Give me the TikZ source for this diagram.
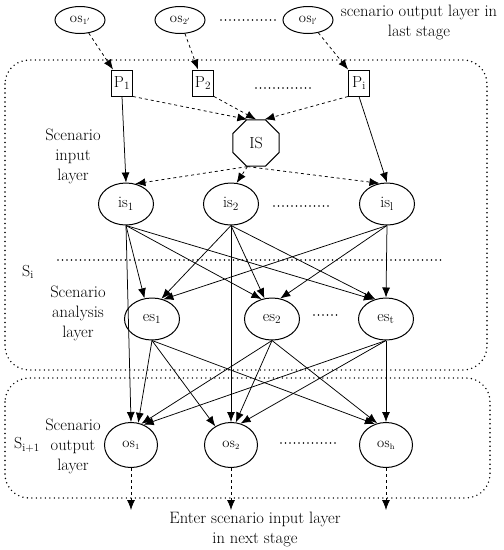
\documentclass[tikz,border=0pt]{standalone}
\usetikzlibrary{arrows.meta,shapes.geometric}
\begin{document}
\begin{tikzpicture}[x=1pt, y=-1pt, font=\fontsize{16}{18}\selectfont,
    state/.style={draw, ellipse, line width=1pt, inner sep=0pt, minimum width=55pt, minimum height=42pt},
    prevout/.style={state, minimum width=50pt, minimum height=27pt, font=\fontsize{12}{13}\selectfont},
    outnode/.style={state, minimum width=53pt, minimum height=45pt, font=\fontsize{12}{13}\selectfont},
    pbox/.style={draw, rectangle, line width=1pt, inner sep=0pt, minimum width=21pt, minimum height=26pt},
    arr/.style={-{Latex[length=10pt,width=8pt]}, line width=0.75pt},
    darr/.style={arr, dashed},
    dotline/.style={line width=1.6pt, line cap=round, dash pattern=on 0pt off 4.5pt},
    layer/.style={align=center, font=\fontsize{16.5}{20}\selectfont}]
    \useasboundingbox (0,0) rectangle (504,550);

    % stage boxes
    \draw[dotline, rounded corners=24pt] (5,60) rectangle (487,370);
    \draw[dotline, rounded corners=24pt] (5,378) rectangle (490,498);
    \draw[dotline] (58,260) -- (442,260);

    % output of last stage
    \node (os1p) [prevout] at (80,20) {\textsc{os}\textsubscript{1$'$}};
    \node (os2p) [prevout] at (180,20) {\textsc{os}\textsubscript{2$'$}};
    \node (oslp) [prevout] at (308,20) {\textsc{os}\textsubscript{l$'$}};
    \draw[dotline] (221,20) -- (276,20);
    \node (lastlbl) [layer, anchor=north] at (419,2) {scenario output layer in\\last stage};

    % input layer
    \node (p1) [pbox] at (122,83) {P\textsubscript{1}};
    \node (p2) [pbox] at (203,83) {P\textsubscript{2}};
    \node (pi) [pbox] at (359,83) {P\textsubscript{i}};
    \draw[dotline] (256,88) -- (311,88);
    \node (is) [draw, regular polygon, regular polygon sides=8, line width=1pt, minimum size=50pt, inner sep=0pt] at (256,143) {IS};
    \node (inlbl) [layer] at (73,156) {Scenario\\input\\layer};

    \node (is1) [state] at (126,204) {is\textsubscript{1}};
    \node (is2) [state] at (231,204) {is\textsubscript{2}};
    \node (isl) [state] at (387,204) {is\textsubscript{l}};
    \draw[dotline] (274,206) -- (329,206);

    \draw[darr] (os1p) -- (p1);
    \draw[darr] (os2p) -- (p2);
    \draw[darr] (oslp) -- (pi);
    \draw[darr] (p1.south east) -- (is.110);
    \draw[darr] (p2.south east) -- (is.90);
    \draw[darr] (pi.south west) -- (is.70);
    \draw[arr] (p1.south) -- (is1.north);
    \draw[arr] (pi.south) -- (isl.north);
    \draw[darr] (is.250) -- (is1.65);
    \draw[darr] (is.250) -- (is2.75);
    \draw[darr] (is.250) -- (isl.110);

    % analysis layer
    \node (silbl) at (28,272) {S\textsubscript{i}};
    \node (anlbl) [layer] at (78,313) {Scenario\\analysis\\layer};
    \node (es1) [state] at (152,319) {es\textsubscript{1}};
    \node (es2) [state] at (272,319) {es\textsubscript{2}};
    \node (est) [state] at (386,319) {es\textsubscript{t}};
    \draw[dotline] (314,315) -- (340,315);

    \draw[arr] (is1.south) -- (es1.110);
    \draw[arr] (is1.south) -- (es2.118);
    \draw[arr] (is1.south) -- (est.122);
    \draw[arr] (is2.south) -- (es1.65);
    \draw[arr] (is2.south) -- (es2.110);
    \draw[arr] (is2.south) -- (est.118);
    \draw[arr] (isl.south) -- (es1.60);
    \draw[arr] (isl.south) -- (es2.68);
    \draw[arr] (isl.south) -- (est.north);

    % output layer
    \node (si1lbl) at (27,445) {S\textsubscript{i+1}};
    \node (outlbl) [layer] at (73,446) {Scenario\\output\\layer};
    \node (os1) [outnode] at (131,445) {\textsc{os}\textsubscript{1}};
    \node (os2) [outnode] at (231,445) {\textsc{os}\textsubscript{2}};
    \node (osh) [outnode] at (386,445) {\textsc{os}\textsubscript{h}};
    \draw[dotline] (281,443) -- (337,443);

    \draw[arr] (is1.south) -- (os1.north);
    \draw[arr] (is2.south) -- (os2.north);
    \draw[arr] (es1.south) -- (os1.72);
    \draw[arr] (es1.south) -- (os2.130);
    \draw[arr] (es1.south) -- (osh.118);
    \draw[arr] (es2.south) -- (os1.64);
    \draw[arr] (es2.south) -- (os2.78);
    \draw[arr] (es2.south) -- (osh.112);
    \draw[arr] (est.south) -- (os1.58);
    \draw[arr] (est.south) -- (os2.66);
    \draw[arr] (est.south) -- (osh.north);

    % to next stage
    \coordinate (next1) at (131,510);
    \coordinate (next2) at (231,510);
    \coordinate (nexth) at (386,510);
    \draw[darr] (os1) -- (next1);
    \draw[darr] (os2) -- (next2);
    \draw[darr] (osh) -- (nexth);
    \node (nextlbl) [layer] at (255,529) {Enter scenario input layer\\in next stage};
\end{tikzpicture}
\end{document}
